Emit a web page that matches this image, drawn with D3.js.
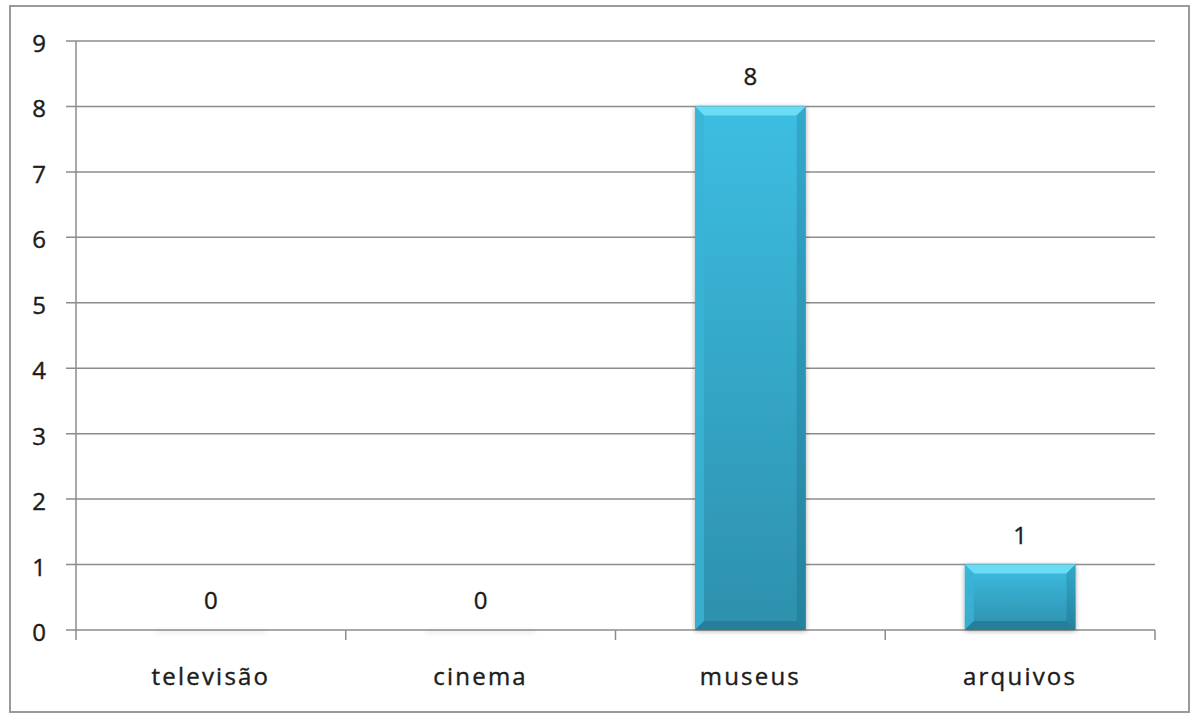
<!DOCTYPE html>
<html><head><meta charset="utf-8">
<script src="https://cdn.jsdelivr.net/npm/d3@7"></script>
<style>body{margin:0;background:#fff}svg{display:block}</style>
</head><body>
<svg id="c" width="1192" height="714"></svg>
<script>
const categories = ["televisão", "cinema", "museus", "arquivos"];
const values = [0, 0, 8, 1];
const yTicks = [0, 1, 2, 3, 4, 5, 6, 7, 8, 9];

(function () {
const svg = d3.select("#c");
const pL = 76, pR = 1155, pT = 41, pB = 630;
const font = "'Open Sans', 'Liberation Sans', sans-serif";
const txt = "#1c1c1c";

svg.append("rect").attr("x", 10).attr("y", 6).attr("width", 1179).attr("height", 706)
  .attr("fill", "#fff").attr("stroke", "#9a9a9a").attr("stroke-width", 2);

const x = d3.scaleBand().domain(categories).range([pL, pR]).paddingInner(0.59).paddingOuter(0.295);
const xb = d3.scaleBand().domain(categories).range([pL, pR]);
const y = d3.scaleLinear().domain([0, 9]).range([pB, pT]);

const defs = svg.append("defs");
const g1 = defs.append("linearGradient").attr("id", "gMain").attr("x1", 0).attr("y1", 0).attr("x2", 0).attr("y2", 1);
g1.append("stop").attr("offset", "0%").attr("stop-color", "#3dbee2");
g1.append("stop").attr("offset", "100%").attr("stop-color", "#2d90ad");
const g2 = defs.append("linearGradient").attr("id", "gSide").attr("x1", 0).attr("y1", 0).attr("x2", 0).attr("y2", 1);
g2.append("stop").attr("offset", "0%").attr("stop-color", "#32a8ca");
g2.append("stop").attr("offset", "100%").attr("stop-color", "#26829d");
const flt = defs.append("filter").attr("id", "sh").attr("x", "-20%").attr("y", "-20%").attr("width", "140%").attr("height", "140%");
flt.append("feGaussianBlur").attr("in", "SourceAlpha").attr("stdDeviation", 2.5);
flt.append("feOffset").attr("dx", 0).attr("dy", 1).attr("result", "b");
flt.append("feComponentTransfer").append("feFuncA").attr("type", "linear").attr("slope", 0.35);
const fm = flt.append("feMerge"); fm.append("feMergeNode"); fm.append("feMergeNode").attr("in", "SourceGraphic");
defs.append("filter").attr("id", "bl").attr("x", "-10%").attr("y", "-500%").attr("width", "120%").attr("height", "1100%")
  .append("feGaussianBlur").attr("stdDeviation", 2.5);

// gridlines
svg.append("g").selectAll("line").data(yTicks).join("line")
  .attr("x1", pL - 10).attr("x2", pR).attr("y1", d => y(d)).attr("y2", d => y(d))
  .attr("stroke", "#8c8c8c").attr("stroke-width", 1.5);

// y axis line
svg.append("line").attr("x1", pL).attr("x2", pL).attr("y1", pT).attr("y2", pB + 10)
  .attr("stroke", "#8c8c8c").attr("stroke-width", 1.5);

// x category ticks
const bounds = categories.map(c => xb(c) + xb.bandwidth());
svg.append("g").selectAll("line").data(bounds).join("line")
  .attr("x1", d => d).attr("x2", d => d).attr("y1", pB).attr("y2", pB + 10)
  .attr("stroke", "#8c8c8c").attr("stroke-width", 1.5);

// y tick labels
svg.append("g").selectAll("text").data(yTicks).join("text")
  .attr("x", 39).attr("y", d => y(d) + 11).attr("text-anchor", "middle")
  .attr("font-family", font).attr("font-size", 24).attr("fill", txt)
  .attr("stroke", txt).attr("stroke-width", 0.4).text(d => d);

const data = categories.map((c, i) => ({ c, v: values[i] }));

// faint shadow of zero-height bars
svg.append("g").selectAll("rect").data(data.filter(d => d.v === 0)).join("rect")
  .attr("x", d => x(d.c)).attr("y", y(0) + 1).attr("width", x.bandwidth()).attr("height", 2)
  .attr("fill", "#000").attr("opacity", 0.12).attr("filter", "url(#bl)");

// bars
const bars = svg.append("g").selectAll("g").data(data.filter(d => d.v > 0)).join("g").attr("filter", "url(#sh)");
bars.each(function (d) {
  const g = d3.select(this);
  const x0 = x(d.c), w = x.bandwidth(), y0 = y(d.v), h = y(0) - y(d.v);
  const b = Math.min(9, h / 3);
  g.append("rect").attr("x", x0).attr("y", y0).attr("width", w).attr("height", h).attr("fill", "url(#gMain)");
  g.append("path").attr("d", `M${x0},${y0}L${x0 + w},${y0}L${x0 + w - b},${y0 + b}L${x0 + b},${y0 + b}Z`).attr("fill", "#6adcf5");
  g.append("path").attr("d", `M${x0},${y0}L${x0 + b},${y0 + b}L${x0 + b},${y0 + h - b}L${x0},${y0 + h}Z`).attr("fill", "#3ab4d6").attr("opacity", 0.8);
  g.append("path").attr("d", `M${x0 + w},${y0}L${x0 + w - b},${y0 + b}L${x0 + w - b},${y0 + h - b}L${x0 + w},${y0 + h}Z`).attr("fill", "url(#gSide)");
  g.append("path").attr("d", `M${x0},${y0 + h}L${x0 + b},${y0 + h - b}L${x0 + w - b},${y0 + h - b}L${x0 + w},${y0 + h}Z`).attr("fill", "#267f99");
});

// value labels
svg.append("g").selectAll("text").data(data).join("text")
  .attr("x", d => x(d.c) + x.bandwidth() / 2).attr("y", d => y(d.v) - 21)
  .attr("text-anchor", "middle").attr("font-family", font).attr("font-size", 24).attr("fill", txt)
  .attr("stroke", txt).attr("stroke-width", 0.4)
  .text(d => d.v);

// category labels
svg.append("g").selectAll("text").data(categories).join("text")
  .attr("x", d => xb(d) + xb.bandwidth() / 2).attr("y", 685)
  .attr("text-anchor", "middle").attr("font-family", font).attr("font-size", 24)
  .attr("letter-spacing", 2.2).attr("fill", txt).attr("stroke", txt).attr("stroke-width", 0.4)
  .text(d => d);
})();
</script>
</body></html>
